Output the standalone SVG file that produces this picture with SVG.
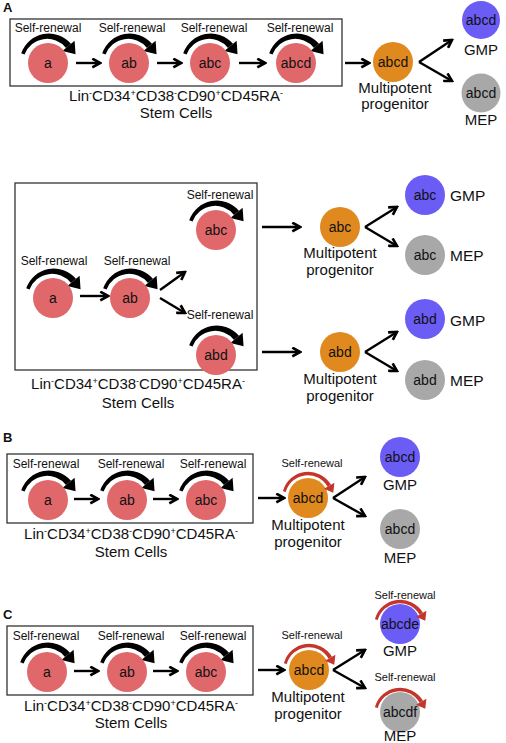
<svg xmlns="http://www.w3.org/2000/svg" xmlns:xlink="http://www.w3.org/1999/xlink" width="506" height="743" viewBox="0 0 506 743">
<style>
text{font-family:"Liberation Sans",Arial,sans-serif;fill:#111}
.sr{font-size:12px;text-anchor:middle}
.srs{font-size:11px;text-anchor:middle}
.lab{font-size:15px;text-anchor:middle}
.mp{font-size:15px;text-anchor:middle}
.gm{font-size:15.5px}
.ct{font-size:14px;text-anchor:middle}
.pl{font-size:13px;font-weight:bold}
.sup{font-size:9px}
.red{fill:#E0686B}
.org{fill:#E0891F}
.blu{fill:#6B5CF5}
.gry{fill:#A8A8A8}
.box{fill:none;stroke:#333;stroke-width:1.3}
.ar{stroke:#000;stroke-width:2.4;fill:none;marker-end:url(#ah)}
</style>
<defs>
<marker id="ah" viewBox="0 0 10 10" refX="8.5" refY="5" markerWidth="11" markerHeight="11" markerUnits="userSpaceOnUse" orient="auto">
<path d="M1.5,1 L8.5,5 L1.5,9" fill="none" stroke="#000" stroke-width="2.4"/>
</marker>
<g id="arc">
<path d="M-26.78,-9.75 A29.2,29.2 0 0 1 22.98,-19.28 L18.00,-15.11 A24.2,24.2 0 0 0 -23.49,-8.55 Z"/>
<polygon points="26.62,-22.33 14.36,-12.05 27.56,-8.76"/>
</g>
<g id="rarc" fill="#C4352B">
<path d="M-25.11,-6.73 A26.3,26.3 0 0 1 22.95,-13.25 L19.49,-11.25 A22.7,22.7 0 0 0 -22.22,-5.95 Z"/>
<polygon points="26.42,-15.25 16.02,-9.25 25.22,-5.32"/>
</g>
</defs>

<!-- Panel A top -->
<g id="panelA1">
<text class="pl" x="3" y="12">A</text>
<rect class="box" x="10" y="19" width="332" height="67"/>
<g id="a1_a"><use xlink:href="#arc" x="48" y="63" fill="#000"/><circle class="red" cx="48" cy="63" r="20"/><text class="ct" x="48" y="68">a</text><text class="sr" x="48" y="32">Self-renewal</text></g>
<g id="a1_ab"><use xlink:href="#arc" x="129" y="63" fill="#000"/><circle class="red" cx="129" cy="63" r="20"/><text class="ct" x="129" y="68">ab</text><text class="sr" x="132" y="32">Self-renewal</text></g>
<g id="a1_abc"><use xlink:href="#arc" x="210" y="63" fill="#000"/><circle class="red" cx="210" cy="63" r="20"/><text class="ct" x="210" y="68">abc</text><text class="sr" x="214" y="32">Self-renewal</text></g>
<g id="a1_abcd"><use xlink:href="#arc" x="296" y="63" fill="#000"/><circle class="red" cx="296" cy="63" r="20"/><text class="ct" x="296" y="68">abcd</text><text class="sr" x="300" y="32">Self-renewal</text></g>
<text class="lab" x="176" y="101">Lin<tspan class="sup" dy="-5">-</tspan><tspan dy="5">CD34</tspan><tspan class="sup" dy="-5">+</tspan><tspan dy="5">CD38</tspan><tspan class="sup" dy="-5">-</tspan><tspan dy="5">CD90</tspan><tspan class="sup" dy="-5">+</tspan><tspan dy="5">CD45RA</tspan><tspan class="sup" dy="-5">-</tspan></text>
<text class="lab" x="176" y="118">Stem Cells</text>
<g id="a1_mpp"><circle class="org" cx="393" cy="62" r="20"/><text class="ct" x="393" y="67">abcd</text><text class="mp" x="395" y="93">Multipotent</text><text class="mp" x="395" y="109">progenitor</text></g>
<g id="a1_gmp"><circle class="blu" cx="481" cy="20" r="19"/><text class="ct" x="481" y="25">abcd</text><text class="mp" x="481" y="55">GMP</text></g>
<g id="a1_mep"><circle class="gry" cx="481" cy="93" r="19.5"/><text class="ct" x="481" y="98">abcd</text><text class="mp" x="481" y="125">MEP</text></g>
</g>

<!-- Panel A middle -->
<g id="panelA2">
<rect class="box" x="15" y="183" width="242" height="187"/>
<g id="a2_a"><use xlink:href="#arc" x="53" y="298" fill="#000"/><circle class="red" cx="53" cy="298" r="20"/><text class="ct" x="53" y="303">a</text><text class="sr" x="54" y="265">Self-renewal</text></g>
<g id="a2_ab"><use xlink:href="#arc" x="130" y="298" fill="#000"/><circle class="red" cx="130" cy="298" r="20"/><text class="ct" x="130" y="303">ab</text><text class="sr" x="137" y="265">Self-renewal</text></g>
<g id="a2_abc"><use xlink:href="#arc" x="216" y="230" fill="#000"/><circle class="red" cx="216" cy="230" r="20"/><text class="ct" x="216" y="235">abc</text><text class="sr" x="220" y="199">Self-renewal</text></g>
<g id="a2_abd"><use xlink:href="#arc" x="216" y="355" fill="#000"/><circle class="red" cx="216" cy="355" r="20"/><text class="ct" x="216" y="360">abd</text><text class="sr" x="220" y="319">Self-renewal</text></g>
<text class="lab" x="138" y="389">Lin<tspan class="sup" dy="-5">-</tspan><tspan dy="5">CD34</tspan><tspan class="sup" dy="-5">+</tspan><tspan dy="5">CD38</tspan><tspan class="sup" dy="-5">-</tspan><tspan dy="5">CD90</tspan><tspan class="sup" dy="-5">+</tspan><tspan dy="5">CD45RA</tspan><tspan class="sup" dy="-5">-</tspan></text>
<text class="lab" x="138" y="408">Stem Cells</text>
<g id="a2_mpp1"><circle class="org" cx="340" cy="227" r="20"/><text class="ct" x="340" y="232">abc</text><text class="mp" x="340" y="258">Multipotent</text><text class="mp" x="340" y="275">progenitor</text></g>
<g id="a2_gmp1"><circle class="blu" cx="425" cy="195" r="20"/><text class="ct" x="425" y="200">abc</text><text class="mp gm" x="450" y="201" style="text-anchor:start">GMP</text></g>
<g id="a2_mep1"><circle class="gry" cx="425" cy="255" r="20"/><text class="ct" x="425" y="260">abc</text><text class="mp gm" x="450" y="261" style="text-anchor:start">MEP</text></g>
<g id="a2_mpp2"><circle class="org" cx="340" cy="352" r="20"/><text class="ct" x="340" y="357">abd</text><text class="mp" x="340" y="384">Multipotent</text><text class="mp" x="340" y="401">progenitor</text></g>
<g id="a2_gmp2"><circle class="blu" cx="425" cy="319" r="20"/><text class="ct" x="425" y="324">abd</text><text class="mp gm" x="450" y="326" style="text-anchor:start">GMP</text></g>
<g id="a2_mep2"><circle class="gry" cx="425" cy="380" r="20"/><text class="ct" x="425" y="385">abd</text><text class="mp gm" x="450" y="386" style="text-anchor:start">MEP</text></g>
</g>

<!-- Panel B -->
<g id="panelB">
<text class="pl" x="3" y="442">B</text>
<rect class="box" x="7" y="454" width="246" height="69"/>
<g id="b_a"><use xlink:href="#arc" x="48" y="500" fill="#000"/><circle class="red" cx="48" cy="500" r="20"/><text class="ct" x="48" y="505">a</text><text class="sr" x="46" y="468">Self-renewal</text></g>
<g id="b_ab"><use xlink:href="#arc" x="127" y="500" fill="#000"/><circle class="red" cx="127" cy="500" r="20"/><text class="ct" x="127" y="505">ab</text><text class="sr" x="131" y="468">Self-renewal</text></g>
<g id="b_abc"><use xlink:href="#arc" x="206" y="500" fill="#000"/><circle class="red" cx="206" cy="500" r="20"/><text class="ct" x="206" y="505">abc</text><text class="sr" x="213" y="468">Self-renewal</text></g>
<text class="lab" x="131" y="539">Lin<tspan class="sup" dy="-5">-</tspan><tspan dy="5">CD34</tspan><tspan class="sup" dy="-5">+</tspan><tspan dy="5">CD38</tspan><tspan class="sup" dy="-5">-</tspan><tspan dy="5">CD90</tspan><tspan class="sup" dy="-5">+</tspan><tspan dy="5">CD45RA</tspan><tspan class="sup" dy="-5">-</tspan></text>
<text class="lab" x="131" y="557">Stem Cells</text>
<g id="b_mpp"><circle class="org" cx="308" cy="498" r="20"/><use xlink:href="#rarc" x="308" y="498"/><text class="ct" x="308" y="503">abcd</text><text class="srs" x="312" y="467">Self-renewal</text><text class="mp" x="308" y="530">Multipotent</text><text class="mp" x="308" y="547">progenitor</text></g>
<g id="b_gmp"><circle class="blu" cx="400" cy="457" r="20"/><text class="ct" x="400" y="462">abcd</text><text class="mp" x="400" y="490">GMP</text></g>
<g id="b_mep"><circle class="gry" cx="400" cy="529" r="20"/><text class="ct" x="400" y="534">abcd</text><text class="mp" x="400" y="563">MEP</text></g>
</g>

<!-- Panel C -->
<g id="panelC">
<text class="pl" x="3" y="619">C</text>
<rect class="box" x="7" y="626" width="246" height="69"/>
<g id="c_a"><use xlink:href="#arc" x="47" y="672" fill="#000"/><circle class="red" cx="47" cy="672" r="20"/><text class="ct" x="47" y="677">a</text><text class="sr" x="46" y="640">Self-renewal</text></g>
<g id="c_ab"><use xlink:href="#arc" x="127" y="672" fill="#000"/><circle class="red" cx="127" cy="672" r="20"/><text class="ct" x="127" y="677">ab</text><text class="sr" x="131" y="640">Self-renewal</text></g>
<g id="c_abc"><use xlink:href="#arc" x="206" y="672" fill="#000"/><circle class="red" cx="206" cy="672" r="20"/><text class="ct" x="206" y="677">abc</text><text class="sr" x="213" y="640">Self-renewal</text></g>
<text class="lab" x="131" y="711">Lin<tspan class="sup" dy="-5">-</tspan><tspan dy="5">CD34</tspan><tspan class="sup" dy="-5">+</tspan><tspan dy="5">CD38</tspan><tspan class="sup" dy="-5">-</tspan><tspan dy="5">CD90</tspan><tspan class="sup" dy="-5">+</tspan><tspan dy="5">CD45RA</tspan><tspan class="sup" dy="-5">-</tspan></text>
<text class="lab" x="131" y="728">Stem Cells</text>
<g id="c_mpp"><circle class="org" cx="309" cy="670" r="20"/><use xlink:href="#rarc" x="309" y="670"/><text class="ct" x="309" y="675">abcd</text><text class="srs" x="312" y="639">Self-renewal</text><text class="mp" x="308" y="702">Multipotent</text><text class="mp" x="308" y="719">progenitor</text></g>
<g id="c_gmp"><circle class="blu" cx="400" cy="624" r="20"/><use xlink:href="#rarc" x="400" y="626"/><text class="ct" x="400" y="629">abcde</text><text class="srs" x="405" y="599">Self-renewal</text><text class="mp" x="400" y="656">GMP</text></g>
<g id="c_mep"><circle class="gry" cx="400" cy="712" r="20"/><use xlink:href="#rarc" x="400" y="714"/><text class="ct" x="400" y="717">abcdf</text><text class="srs" x="405" y="681">Self-renewal</text><text class="mp" x="400" y="741">MEP</text></g>
</g>

<!-- Connectors -->
<g id="connectors">
<line class="ar" x1="76" y1="63" x2="100" y2="63"/>
<line class="ar" x1="157" y1="63" x2="181" y2="63"/>
<line class="ar" x1="239" y1="63" x2="265" y2="63"/>
<line class="ar" x1="345" y1="63" x2="369" y2="63"/>
<line class="ar" x1="419" y1="62" x2="452" y2="40"/>
<line class="ar" x1="419" y1="62" x2="452" y2="81"/>

<line class="ar" x1="80" y1="296" x2="108" y2="296"/>
<line class="ar" x1="160" y1="290" x2="185" y2="272"/>
<line class="ar" x1="160" y1="298" x2="185" y2="313"/>
<line class="ar" x1="262" y1="227" x2="300" y2="227"/>
<line class="ar" x1="262" y1="352" x2="300" y2="352"/>
<line class="ar" x1="365" y1="227" x2="397" y2="207"/>
<line class="ar" x1="365" y1="227" x2="397" y2="246"/>
<line class="ar" x1="365" y1="352" x2="397" y2="332"/>
<line class="ar" x1="365" y1="352" x2="397" y2="371"/>

<line class="ar" x1="74" y1="499" x2="98" y2="499"/>
<line class="ar" x1="153" y1="499" x2="177" y2="499"/>
<line class="ar" x1="258" y1="498" x2="284" y2="498"/>
<line class="ar" x1="333" y1="498" x2="365" y2="477"/>
<line class="ar" x1="333" y1="498" x2="365" y2="516"/>

<line class="ar" x1="74" y1="671" x2="98" y2="671"/>
<line class="ar" x1="153" y1="671" x2="177" y2="671"/>
<line class="ar" x1="258" y1="670" x2="284" y2="670"/>
<line class="ar" x1="333" y1="670" x2="365" y2="650"/>
<line class="ar" x1="333" y1="670" x2="365" y2="688"/>
</g>
</svg>
